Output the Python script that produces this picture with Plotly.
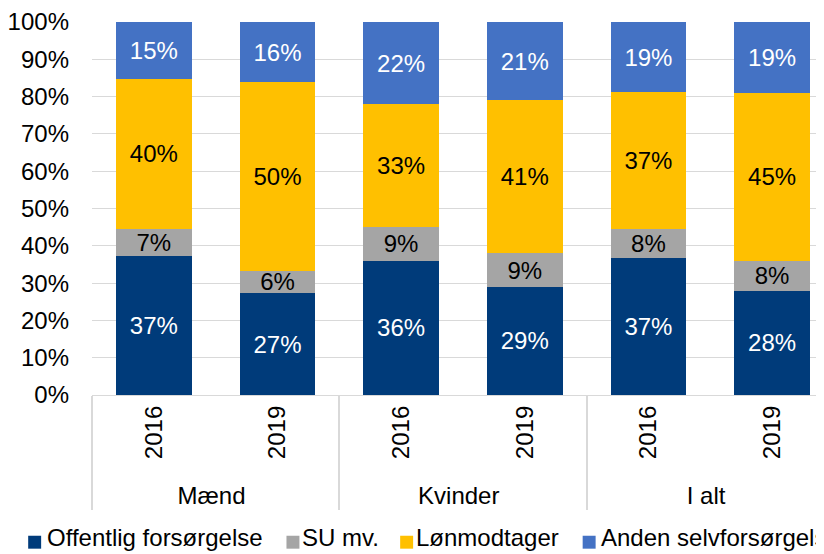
import plotly.graph_objects as go

# ---- data ----
groups = ["Mænd", "Mænd", "Kvinder", "Kvinder", "I alt", "I alt"]
years = ["2016", "2019", "2016", "2019", "2016", "2019"]

series_names = ["Offentlig forsørgelse", "SU mv.", "Lønmodtager", "Anden selvforsørgelse"]
offentlig = [37, 27, 36, 29, 37, 28]
su = [7, 6, 9, 9, 8, 8]
lonmodtager = [40, 50, 33, 41, 37, 45]
anden = [15, 16, 22, 21, 19, 19]

y_ticks = [0, 10, 20, 30, 40, 50, 60, 70, 80, 90, 100]

# ---- styles ----
colors = ["#003B7A", "#A5A5A5", "#FFC000", "#4472C4"]
text_colors = ["white", "black", "black", "white"]
FONT = "Liberation Sans, Arial, sans-serif"
FS = 24

OFF = 8  # page body margin offset
W, H = 824 - OFF, 554 - OFF
ML, MR, MT, MB = 90 - OFF, 0, 20 - OFF, 554 - 395
PW = W - ML - MR
PH = H - MT - MB

fig = go.Figure()
for name, vals, col, tcol in zip(series_names, [offentlig, su, lonmodtager, anden], colors, text_colors):
    fig.add_trace(go.Bar(
        x=[groups, years], y=vals, name=name,
        marker=dict(color=col, line=dict(width=0)),
        text=[f"{v}%" for v in vals],
        textposition="inside", insidetextanchor="middle",
        constraintext="none",
        textfont=dict(family=FONT, size=FS, color=tcol),
        showlegend=False,
        hoverinfo="skip",
    ))

# manual legend (reference legend runs past the right edge)
def px_x(px):
    return (px - OFF - ML) / PW

def px_y(py):
    return (H - MB - (py - OFF)) / PH

legend_pos = [(26, 43), (285, 299), (399, 413), (582, 598)]
sq_y, txt_y = 543, 538
for (sx, tx), name, col in zip(legend_pos, series_names, colors):
    fig.add_shape(type="rect", xref="paper", yref="paper",
                  x0=px_x(sx), x1=px_x(sx + 13), y0=px_y(sq_y + 6.5), y1=px_y(sq_y - 6.5),
                  fillcolor=col, line=dict(width=0), layer="above")
    fig.add_annotation(xref="paper", yref="paper", x=px_x(tx), y=px_y(txt_y),
                       text=name, showarrow=False, xanchor="left", yanchor="middle",
                       font=dict(family=FONT, size=FS, color="black"))

fig.update_layout(
    barmode="stack", barnorm="percent", bargap=0.387,
    width=W, height=H,
    margin=dict(l=ML, r=MR, t=MT, b=MB, pad=0),
    paper_bgcolor="white", plot_bgcolor="white",
    font=dict(family=FONT, size=FS, color="black"),
    showlegend=False,
)
fig.update_yaxes(
    range=[0, 100], tickvals=y_ticks, ticktext=[f"{t}%" for t in y_ticks],
    showgrid=True, gridcolor="#D9D9D9", gridwidth=1.3,
    zeroline=False, showline=False, ticks="", ticklabelstandoff=22,
    ticklabeloverflow="allow",
    tickfont=dict(family=FONT, size=FS, color="black"),
)
fig.update_xaxes(
    type="multicategory", range=[-0.5, 5.42],
    tickangle=-90, showline=True, linecolor="#D9D9D9", linewidth=1.3,
    showdividers=True, dividercolor="#D9D9D9", dividerwidth=1.5,
    ticks="", tickfont=dict(family=FONT, size=FS, color="black"),
)

fig.write_html("out.html")
